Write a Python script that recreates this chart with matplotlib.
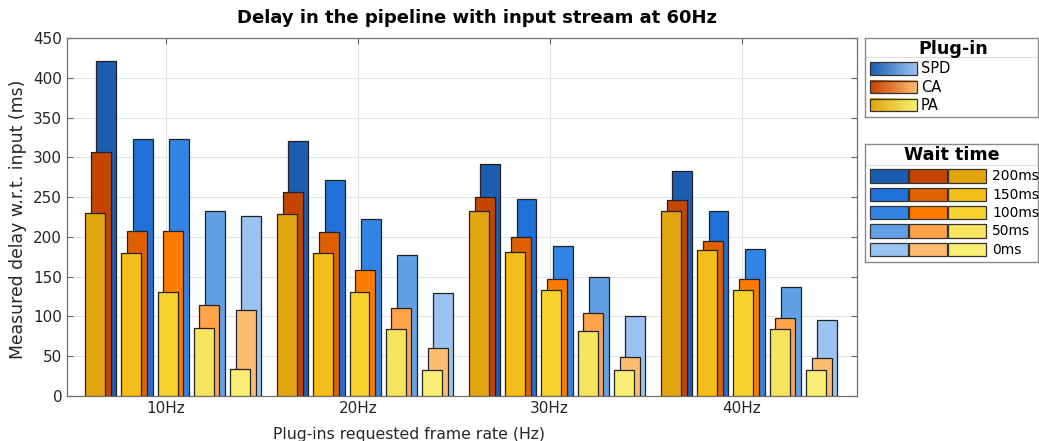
import numpy as np
import matplotlib
matplotlib.use("Agg")
import matplotlib.pyplot as plt
from matplotlib.colors import LinearSegmentedColormap
from matplotlib.patches import Rectangle

# Data
rates = ["10Hz", "20Hz", "30Hz", "40Hz"]
waits = ["200ms", "150ms", "100ms", "50ms", "0ms"]
plugins = ["SPD", "CA", "PA"]

# rows = frame rate, columns = wait time
spd = np.array([
    [421, 323, 323, 233, 226],
    [321, 271, 222, 177, 129],
    [291, 247, 189, 150, 101],
    [283, 232, 185, 137, 96],
])
ca = np.array([
    [307, 207, 207, 115, 108],
    [256, 206, 158, 110, 60],
    [250, 200, 147, 104, 49],
    [246, 195, 147, 98, 48],
])
pa = np.array([
    [230, 180, 131, 85, 34],
    [229, 180, 131, 84, 33],
    [232, 181, 133, 82, 33],
    [233, 183, 133, 84, 33],
])

# colours, dark (200ms) -> light (0ms)
spd_colors = ["#1b5db0", "#1f70d8", "#3384e2", "#62a0e6", "#9ac3f1"]
ca_colors = ["#c44500", "#e06000", "#ff7a00", "#ffa24a", "#ffbb70"]
pa_colors = ["#e2a40c", "#f3be15", "#f5d22e", "#f6e35e", "#f7ef72"]

W, H = 1039, 441
fig = plt.figure(figsize=(W / 100, H / 100), dpi=100)
ax = fig.add_axes([67 / W, (H - 396) / H, 790 / W, 358 / H])

x = np.arange(1, len(rates) + 1)
width = 0.104
step = 0.189
shift = 0.0295

series = [(spd, spd_colors, 2), (ca, ca_colors, 1), (pa, pa_colors, 0)]
for vals, cols, k in series:
    for j in range(len(waits)):
        pos = x + 0.009 + (j - 2) * step + k * shift
        ax.bar(pos, vals[:, j], width=width, color=cols[j],
               edgecolor="#222222", linewidth=0.9, zorder=3)

ax.set_xlim(0.4854, 4.6005)
ax.set_ylim(0, 450)
ax.set_yticks(np.arange(0, 451, 50))
ax.set_xticks(x)
ax.set_xticklabels(rates)
ax.grid(True, color="#e3e3e3", linewidth=0.8, zorder=0)
ax.tick_params(direction="in", top=True, right=True, labelsize=11,
               colors="#666666", labelcolor="#262626", length=4)
for s in ax.spines.values():
    s.set_color("#707070")
    s.set_linewidth(0.9)

fig.text(477 / W, 1 - 18 / H, "Delay in the pipeline with input stream at 60Hz",
         ha="center", va="center", fontsize=13, fontweight="bold")
fig.text(409 / W, 1 - 434 / H, "Plug-ins requested frame rate (Hz)",
         ha="center", va="center", fontsize=11.3, color="#262626")
fig.text(18 / W, 1 - 219 / H, "Measured delay w.r.t. input (ms)",
         ha="center", va="center", rotation=90, fontsize=12.4, color="#262626")


def legend_box(top, bottom):
    lax = fig.add_axes([865 / W, (H - bottom) / H, 173 / W, (bottom - top) / H])
    lax.set_xlim(0, 173)
    lax.set_ylim(bottom - top, 0)
    lax.set_xticks([])
    lax.set_yticks([])
    for s in lax.spines.values():
        s.set_color("#8a8a8a")
        s.set_linewidth(1.0)
    return lax


# Plug-in legend with gradient swatches
leg1 = legend_box(38.3, 117.3)
leg1.text(88, 10.5, "Plug-in", ha="center", va="center",
          fontsize=12.6, fontweight="bold")
leg1.axhline(18.4, color="#dddddd", linewidth=0.8)
grad = np.linspace(0, 1, 64).reshape(1, -1)
for i, (name, cols) in enumerate(zip(plugins, [spd_colors, ca_colors, pa_colors])):
    y0 = 24 + i * 18.2
    cmap = LinearSegmentedColormap.from_list(name, [cols[0], cols[-1]])
    leg1.imshow(grad, cmap=cmap, aspect="auto", extent=(5, 52, y0 + 12.6, y0),
                zorder=2)
    leg1.add_patch(Rectangle((5, y0), 47, 12.6, fill=False,
                             edgecolor="#333333", linewidth=0.9, zorder=3))
    leg1.text(56, y0 + 6.5, name, va="center", fontsize=10.5)
leg1.set_xlim(0, 173)
leg1.set_ylim(79, 0)

# Wait time legend
leg2 = legend_box(144.3, 261.7)
leg2.text(87, 10.5, "Wait time", ha="center", va="center",
          fontsize=12.6, fontweight="bold")
leg2.axhline(20.7, color="#dddddd", linewidth=0.8)
for j, w in enumerate(waits):
    y0 = 25 + j * 18.3
    for k, cols in enumerate([spd_colors, ca_colors, pa_colors]):
        leg2.add_patch(Rectangle((5 + k * 39, y0), 38, 13.4, facecolor=cols[j],
                                 edgecolor="#333333", linewidth=0.9))
    leg2.text(127, y0 + 7, w, va="center", fontsize=10)

fig.savefig("out.png", dpi=100)
